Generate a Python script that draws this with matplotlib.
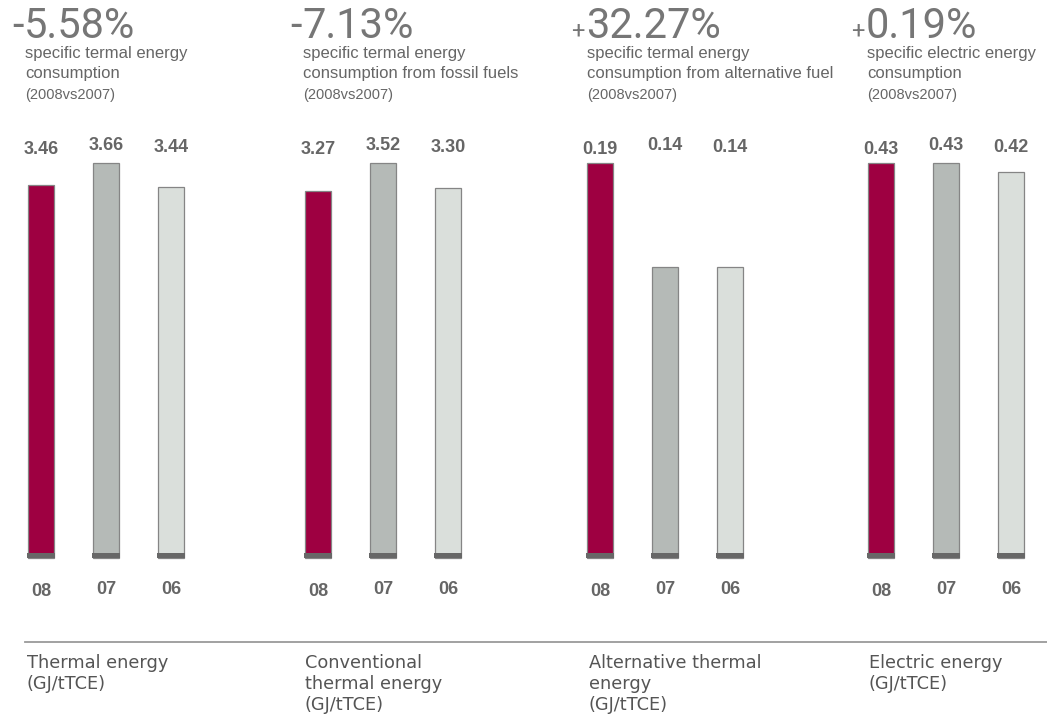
import matplotlib
matplotlib.use("Agg")
import matplotlib.pyplot as plt
from matplotlib.transforms import blended_transform_factory

# data
years = ["08", "07", "06"]
thermal = [3.46, 3.66, 3.44]
conventional = [3.27, 3.52, 3.30]
alternative = [0.19, 0.14, 0.14]
electric = [0.43, 0.43, 0.42]
changes = ["-5.58%", "-7.13%", "+32.27%", "+0.19%"]
subtitles = [
    "specific termal energy\nconsumption",
    "specific termal energy\nconsumption from fossil fuels",
    "specific termal energy\nconsumption from alternative fuel",
    "specific electric energy\nconsumption",
]
period = "(2008vs2007)"
categories = [
    "Thermal energy\n(GJ/tTCE)",
    "Conventional\nthermal energy\n(GJ/tTCE)",
    "Alternative thermal\nenergy\n(GJ/tTCE)",
    "Electric energy\n(GJ/tTCE)",
]
series = [thermal, conventional, alternative, electric]

W, H = 1047, 722
fig = plt.figure(figsize=(W / 100, H / 100), dpi=100)

bar_colors = ["#9e0041", "#b5bab7", "#dadfdb"]
text_grey = "#666666"
head_grey = "#767676"
num_font = "Liberation Sans"

# pixel layout of each panel
text_x = [25, 303, 587, 867]
first_bar = [41, 318, 600, 881]
step = 65
bar_top, bar_bottom = 163, 558
cap_px = 5

def fx(px):
    return px / W

def fy(py):
    return 1 - py / H

for k, vals in enumerate(series):
    left = first_bar[k] - step / 2
    ax = fig.add_axes([fx(left), fy(bar_bottom), fx(3 * step), (bar_bottom - bar_top) / H])
    vmax = max(vals)
    ax.set_xlim(-0.5, 2.5)
    ax.set_ylim(0, vmax)
    ax.axis("off")
    per_px = vmax / (bar_bottom - bar_top)
    xs = range(len(vals))
    ax.bar(xs, vals, width=0.4, color=bar_colors, edgecolor="#858585",
           linewidth=0.9, clip_on=False, zorder=2)
    ax.bar(xs, [cap_px * per_px] * len(vals), width=0.4 + 1.5 / step,
           color="#676767", linewidth=0, clip_on=False, zorder=3)

    tr = blended_transform_factory(ax.transData, fig.transFigure)
    offs = [2, -2, 0]
    for i, v in enumerate(vals):
        ax.text(i, fy(148 + offs[i]), f"{v:.2f}", transform=tr, ha="center",
                va="center", fontsize=13, fontweight="bold", color=text_grey,
                family=num_font)
        ax.text(i, fy(591 + offs[i] / 2 - 1), years[i], transform=tr, ha="center",
                va="center", fontsize=13, fontweight="bold", color=text_grey,
                family=num_font)

    # headline percentage
    sign, num = changes[k][0], changes[k][1:]
    x0 = fx(text_x[k] - 1)
    fig.text(x0, fy(38), num, ha="left", va="baseline", fontsize=30,
             color=head_grey, family="Roboto")
    if sign == "-":
        fig.text(x0, fy(38), sign, ha="right", va="baseline", fontsize=30,
                 color=head_grey, family="Roboto")
    else:
        fig.text(x0 - fx(2), fy(38), sign, ha="right", va="baseline", fontsize=17,
                 color=head_grey, family="Roboto")

    fig.text(fx(text_x[k]), fy(46), subtitles[k], ha="left", va="top",
             fontsize=12, color=text_grey, family=num_font, linespacing=1.45)
    fig.text(fx(text_x[k]), fy(87.5), period, ha="left", va="top",
             fontsize=10.5, color=text_grey, family=num_font)

    fig.text(fx(text_x[k] + 2), fy(654), categories[k], ha="left", va="top",
             fontsize=12.8, color="#555555", family="DejaVu Sans", linespacing=1.23)

# separator line
fig.add_artist(plt.Line2D([fx(25), 1], [fy(642), fy(642)], color="#9a9a9a", linewidth=1.3))

fig.savefig("out.png", dpi=100, facecolor="white")
